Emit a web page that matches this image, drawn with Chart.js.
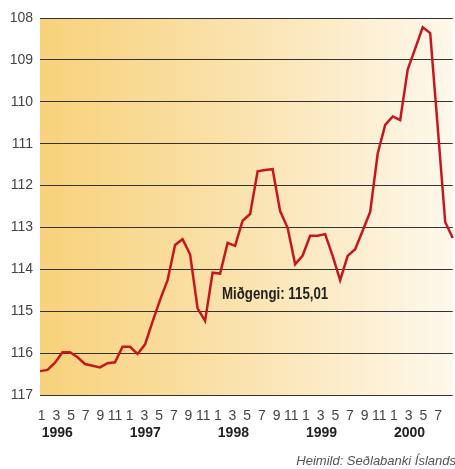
<!DOCTYPE html>
<html>
<head>
<meta charset="utf-8">
<script src="https://cdn.jsdelivr.net/npm/chart.js@4/dist/chart.umd.min.js"></script>
<style>
  html, body { margin: 0; padding: 0; background: #ffffff; }
  #wrap { width: 455px; height: 469px; }
</style>
</head>
<body>
<div id="wrap"><canvas id="c" width="455" height="469"></canvas></div>
<script>
// ---- Data -------------------------------------------------------------
const categories = [
  '1996-01','1996-02','1996-03','1996-04','1996-05','1996-06','1996-07','1996-08','1996-09','1996-10','1996-11','1996-12',
  '1997-01','1997-02','1997-03','1997-04','1997-05','1997-06','1997-07','1997-08','1997-09','1997-10','1997-11','1997-12',
  '1998-01','1998-02','1998-03','1998-04','1998-05','1998-06','1998-07','1998-08','1998-09','1998-10','1998-11','1998-12',
  '1999-01','1999-02','1999-03','1999-04','1999-05','1999-06','1999-07','1999-08','1999-09','1999-10','1999-11','1999-12',
  '2000-01','2000-02','2000-03','2000-04','2000-05','2000-06','2000-07','2000-08'
];
const exchangeIndex = [
  116.43, 116.40, 116.23, 115.98, 115.98, 116.10, 116.26, 116.30, 116.34, 116.24, 116.22, 115.85,
  115.85, 116.02, 115.79, 115.25, 114.73, 114.26, 113.42, 113.28, 113.64, 114.93, 115.23, 114.08,
  114.10, 113.37, 113.44, 112.84, 112.68, 111.66, 111.63, 111.61, 112.61, 113.01, 113.88, 113.67,
  113.20, 113.20, 113.16, 113.68, 114.26, 113.68, 113.52, 113.08, 112.63, 111.24, 110.55, 110.35,
  110.44, 109.23, 108.73, 108.22, 108.36, 110.60, 112.87, 113.25
];
const monthTickLabels = ['1','3','5','7','9','11','1','3','5','7','9','11','1','3','5','7','9','11','1','3','5','7','9','11','1','3','5','7'];
const monthTickIndex  = [0,2,4,6,8,10,12,14,16,18,20,22,24,26,28,30,32,34,36,38,40,42,44,46,48,50,52,54];
const yearLabels      = ['1996','1997','1998','1999','2000'];
const yearTickIndex   = [0,12,24,36,48];
const yTicks          = [108,109,110,111,112,113,114,115,116,117];
const annotationText  = 'Miðgengi: 115,01';
const sourceText      = 'Heimild: Seðlabanki Íslands';

// ---- Styles ----------------------------------------------------------
const regular = "'Liberation Sans', Arial, sans-serif";

const bgPlugin = {
  id: 'bgGradient',
  beforeDraw(chart) {
    const { ctx, chartArea: a } = chart;
    const g = ctx.createLinearGradient(a.left, 0, a.right, 0);
    g.addColorStop(0, '#F8D27B');
    g.addColorStop(0.5, '#FAE3AF');
    g.addColorStop(1, '#FEF8EC');
    ctx.save();
    ctx.fillStyle = g;
    ctx.fillRect(a.left, a.top, a.right - a.left, a.bottom - a.top);
    ctx.restore();
  }
};

const textPlugin = {
  id: 'texts',
  afterDatasetsDraw(chart) {
    const { ctx } = chart;
    const xs = chart.scales.x, ys = chart.scales.y;
    const ax = xs.getPixelForValue(24.25), ay = ys.getPixelForValue(114.6);
    ctx.save();
    ctx.translate(ax, ay);
    ctx.scale(0.83, 1);
    ctx.font = "bold 16px " + regular;
    ctx.fillStyle = '#222222';
    ctx.textAlign = 'left';
    ctx.textBaseline = 'middle';
    ctx.fillText(annotationText, 0, 0);
    ctx.restore();
    ctx.save();
    ctx.font = "italic 13px " + regular;
    ctx.fillStyle = '#555555';
    ctx.textAlign = 'right';
    ctx.textBaseline = 'middle';
    ctx.fillText(sourceText, 456, 461);
    ctx.restore();
  }
};

new Chart(document.getElementById('c'), {
  type: 'line',
  data: {
    labels: categories,
    datasets: [{
      data: exchangeIndex,
      borderColor: '#C8161E',
      borderWidth: 2.5,
      pointRadius: 0,
      tension: 0,
      fill: false
    }]
  },
  plugins: [bgPlugin, textPlugin],
  options: {
    responsive: false,
    animation: false,
    devicePixelRatio: 1,
    layout: { padding: { top: 18, bottom: 26, left: 0, right: 0 } },
    plugins: { legend: { display: false }, tooltip: { enabled: false } },
    scales: {
      x: { type: 'category', display: false },
      xm: {
        type: 'linear', position: 'bottom', weight: 0,
        min: -0.23, max: 56.0,
        grid: { display: false, drawTicks: false }, border: { display: false },
        afterBuildTicks: s => { s.ticks = monthTickIndex.map(v => ({ value: v })); },
        afterFit: s => { s.height = 28; },
        ticks: {
          autoSkip: false, maxRotation: 0, padding: 13,
          font: { family: regular, size: 14 }, color: '#444444',
          callback: (v, i) => monthTickLabels[i]
        }
      },
      xy: {
        type: 'linear', position: 'bottom', weight: 1,
        min: -0.23, max: 56.0,
        grid: { display: false, drawTicks: false }, border: { display: false },
        afterBuildTicks: s => { s.ticks = yearTickIndex.map(v => ({ value: v })); },
        afterFit: s => { s.height = 20; },
        ticks: {
          autoSkip: false, maxRotation: 0, padding: 2, align: 'start',
          font: { family: regular, size: 14, weight: 'bold' }, color: '#222222',
          callback: (v, i) => yearLabels[i]
        }
      },
      y: {
        reverse: true, min: 108, max: 117,
        afterBuildTicks: s => { s.ticks = yTicks.map(v => ({ value: v })); },
        afterFit: s => { s.width = 40; },
        border: { display: false },
        grid: { color: '#333333', lineWidth: 1, drawTicks: false },
        ticks: {
          padding: 7,
          font: { family: regular, size: 14 }, color: '#444444',
          callback: v => String(v)
        }
      }
    }
  }
});
</script>
</body>
</html>
